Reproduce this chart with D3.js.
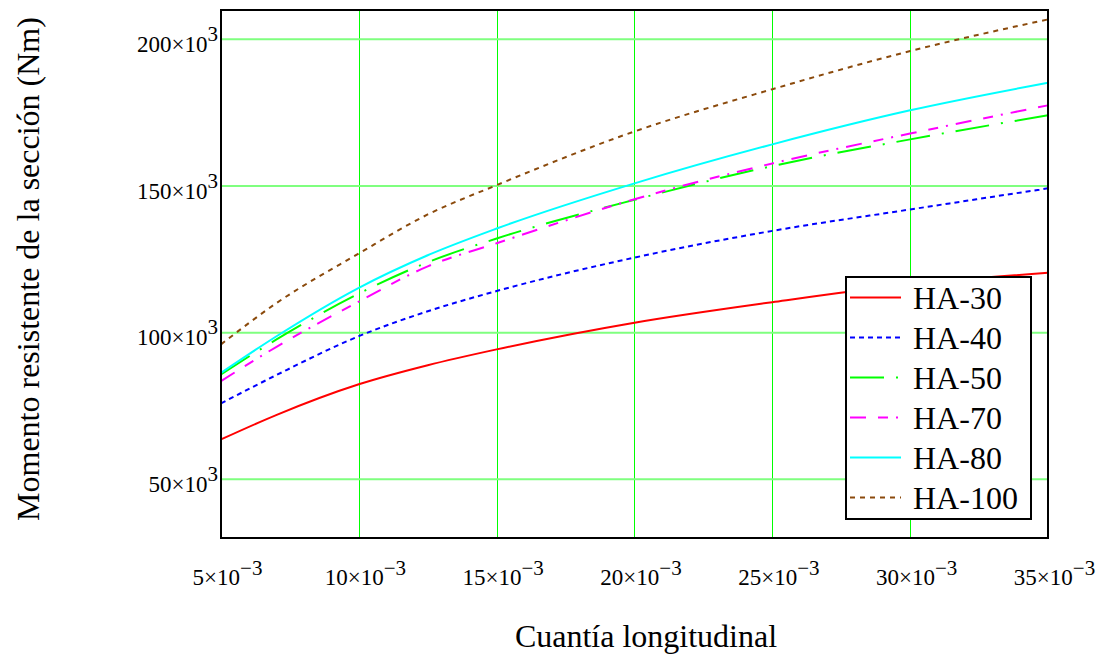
<!DOCTYPE html>
<html>
<head>
<meta charset="utf-8">
<script src="https://cdn.jsdelivr.net/npm/d3@7"></script>
<style>
  html, body { margin: 0; padding: 0; background: #fff; }
  svg { display: block; }
  text { font-family: "Liberation Serif", "Times New Roman", serif; fill: #000; }
</style>
</head>
<body>
<svg id="chart" width="1101" height="657"></svg>
<script>
// Longitudinal reinforcement ratio (x) and resisting moment per concrete class (Nm)
const cuantia = [0.005, 0.007, 0.010, 0.0125, 0.015, 0.020, 0.025, 0.030, 0.035];
const ha30  = [63600, 71900, 82400, 88900, 94300, 103400, 110400, 116500, 120400];
const ha40  = [75900, 85500, 98800, 107300, 114200, 125600, 134700, 142000, 149200];
const ha50  = [85800, 97600, 113300, 124000, 132100, 145300, 156800, 165900, 174100];
const ha70  = [83500, 95100, 110600, 122600, 130500, 145500, 157700, 167900, 177500];
const ha80  = [86300, 98700, 115300, 126400, 135500, 150900, 164200, 175800, 185200];
const ha100 = [96000, 110000, 127000, 140300, 150300, 168600, 183000, 196000, 206800];

const seriesNames = ["HA-30", "HA-40", "HA-50", "HA-70", "HA-80", "HA-100"];
const seriesValues = [ha30, ha40, ha50, ha70, ha80, ha100];

const xTicks = [0.005, 0.010, 0.015, 0.020, 0.025, 0.030, 0.035];
const xTickMantissa = ["5", "10", "15", "20", "25", "30", "35"];
const yTicks = [50000, 100000, 150000, 200000];
const yTickMantissa = ["50", "100", "150", "200"];

const styles = [
  { color: "#ff0000", dash: null },
  { color: "#0000ff", dash: "5,4" },
  { color: "#00ff00", dash: "34,12,2,12" },
  { color: "#ff00ff", dash: "16,12,10,8,2,8" },
  { color: "#00ffff", dash: null },
  { color: "#8b4a0c", dash: "5,5" }
];

const svg = d3.select("#chart");
const plotLeft = 221, plotRight = 1048, plotTop = 10, plotBottom = 538;

const x = d3.scaleLinear().domain([0.005, 0.035]).range([plotLeft, plotRight]);
const y = d3.scaleLinear().domain([30000, 210000]).range([plotBottom, plotTop]);

// grid: vertical lines snapped to whole pixels
const grid = svg.append("g");
grid.selectAll("line.v")
  .data(xTicks.slice(1, -1))
  .join("line")
  .attr("class", "v")
  .attr("x1", d => Math.round(x(d)) + 0.5).attr("x2", d => Math.round(x(d)) + 0.5)
  .attr("y1", plotTop).attr("y2", plotBottom)
  .attr("stroke", "#00ff00").attr("stroke-width", 1);
grid.selectAll("line.h")
  .data(yTicks)
  .join("line")
  .attr("class", "h")
  .attr("x1", plotLeft).attr("x2", plotRight)
  .attr("y1", d => y(d)).attr("y2", d => y(d))
  .attr("stroke", "#7fff7f").attr("stroke-width", 2);

// curves
const line = d3.line()
  .x((d, i) => x(cuantia[i]))
  .y(d => y(d))
  .curve(d3.curveMonotoneX);

const plot = svg.append("g");
seriesValues.forEach((vals, i) => {
  plot.append("path")
    .datum(vals)
    .attr("d", line)
    .attr("fill", "none")
    .attr("stroke", styles[i].color)
    .attr("stroke-width", 2)
    .attr("stroke-dasharray", styles[i].dash);
});

// frame
svg.append("rect")
  .attr("x", plotLeft).attr("y", plotTop)
  .attr("width", plotRight - plotLeft).attr("height", plotBottom - plotTop)
  .attr("fill", "none").attr("stroke", "#000").attr("stroke-width", 2);

// x tick labels
const ax = svg.append("g").attr("transform", `translate(0,${plotBottom})`)
  .call(d3.axisBottom(x).tickValues(xTicks).tickSize(0).tickPadding(0).tickFormat(""));
ax.select(".domain").remove();
ax.selectAll(".tick text").each(function(d, i) {
  const t = d3.select(this)
    .attr("y", 47).attr("dy", null)
    .attr("x", 6)
    .attr("text-anchor", "middle")
    .style("font-size", "23px");
  t.append("tspan").text(xTickMantissa[i] + "×10");
  t.append("tspan").attr("dy", -10).style("font-size", "21px").text("−3");
});

// y tick labels
const ay = svg.append("g").attr("transform", `translate(${plotLeft},0)`)
  .call(d3.axisLeft(y).tickValues(yTicks).tickSize(0).tickPadding(0).tickFormat(""));
ay.select(".domain").remove();
ay.selectAll(".tick text").each(function(d, i) {
  const t = d3.select(this)
    .attr("x", -3).attr("dy", null).attr("y", 12)
    .attr("text-anchor", "end")
    .style("font-size", "23px");
  t.append("tspan").text(yTickMantissa[i] + "×10");
  t.append("tspan").attr("dy", -11).style("font-size", "21px").text("3");
});

// axis titles
svg.append("text")
  .attr("x", 646).attr("y", 647)
  .attr("text-anchor", "middle")
  .style("font-size", "32px")
  .text("Cuantía longitudinal");

svg.append("text")
  .attr("transform", "translate(39,269) rotate(-90)")
  .attr("text-anchor", "middle")
  .style("font-size", "32px")
  .text("Momento resistente de la sección (Nm)");

// legend
const lg = svg.append("g");
lg.append("rect")
  .attr("x", 846).attr("y", 277)
  .attr("width", 185).attr("height", 242)
  .attr("fill", "#fff").attr("stroke", "#000").attr("stroke-width", 2);
seriesNames.forEach((name, i) => {
  const ly = 297.5 + i * 40;
  lg.append("line")
    .attr("x1", 850).attr("x2", 901).attr("y1", ly).attr("y2", ly)
    .attr("stroke", styles[i].color).attr("stroke-width", 2)
    .attr("stroke-dasharray", styles[i].dash);
  lg.append("text")
    .attr("x", 913).attr("y", ly + 11)
    .style("font-size", "32px")
    .text(name);
});
</script>
</body>
</html>
